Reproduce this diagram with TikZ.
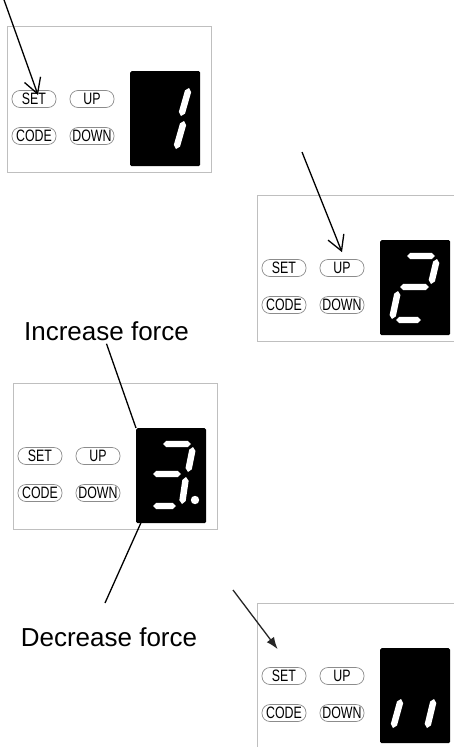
\documentclass[tikz,border=0pt]{standalone}
\usepackage{fontspec}
\setmainfont{Liberation Sans}
\newfontfamily\keyfont[FakeStretch=0.75]{Liberation Sans}
\usetikzlibrary{arrows.meta,calc}
\tikzset{
        panelbox/.style = {draw=black!25, line width=0.9pt},
        keybtn/.style = {draw=black!45, line width=0.7pt, rounded corners=8pt,
            minimum width=44pt, minimum height=17pt, inner sep=0pt,
            font=\keyfont\fontsize{16.5pt}{16.5pt}\selectfont},
        segdisp/.style = {fill=black, rounded corners=1.5pt, inner sep=0pt,
            minimum width=70pt, minimum height=95pt, anchor=north west},
        forcetext/.style = {inner sep=3pt, font=\fontsize{26pt}{28pt}\selectfont},
        press/.style = {line width=1.3pt, -{Straight Barb[length=15pt,width=17pt]}},
        pressfill/.style = {line width=1.3pt, draw=black!85,
            -{Latex[length=12pt,width=9pt]}},
        lead/.style = {line width=1.3pt}
    }
% one control panel: #1 = top left corner, #2 = name prefix
\newcommand{\ctrlpanel}[2]{%
    \begin{scope}[shift={(#1)}, name prefix=#2-]
        \draw[panelbox] (0,0) rectangle (204,146);
        \node[keybtn] (set) at (27,73) {SET};
        \node[keybtn] (up) at (85,73) {UP};
        \node[keybtn] (code) at (27,110) {CODE};
        \node[keybtn] (down) at (85,110) {DOWN};
        \node[segdisp] (disp) at (123,45) {};
    \end{scope}}
% one slanted segment of the digit, from #1 to #2
\newcommand{\dseg}[2]{%
    \fill[white] (#1) -- ($(#1)!3.4pt!(#2)!3.2pt!90:(#2)$)
        -- ($(#2)!3.4pt!(#1)!3.2pt!-90:(#1)$) -- (#2)
        -- ($(#2)!3.4pt!(#1)!3.2pt!90:(#1)$)
        -- ($(#1)!3.4pt!(#2)!3.2pt!-90:(#2)$) -- cycle;}

\begin{document}
\begin{tikzpicture}[x=1pt, y=-1pt]
    \useasboundingbox (0,0) rectangle (454,747);
    \clip (0,0) rectangle (454,747);

    \ctrlpanel{7,26}{p1}
    \ctrlpanel{257,195}{p2}
    \ctrlpanel{13,383}{p3}
    \ctrlpanel{257,603}{p4}

    % digits
    \begin{scope}[shift={(p1-disp.north west)}] % 1
        \dseg{59,17}{51,45}
        \dseg{54,50}{46,78}
    \end{scope}
    \begin{scope}[shift={(p2-disp.north west)}] % 2
        \dseg{27,16}{55,16}
        \dseg{57,19}{51,44}
        \dseg{20,47}{49,47}
        \dseg{18,51}{12,79}
        \dseg{16,80}{41,80}
    \end{scope}
    \begin{scope}[shift={(p3-disp.north west)}] % 3.
        \dseg{27,16}{55,16}
        \dseg{57,19}{52,44}
        \dseg{17,46}{45,46}
        \dseg{50,49}{46,76}
        \dseg{17,78}{40,78}
        \fill[white] (59,72) circle (4.2pt);
    \end{scope}
    \begin{scope}[shift={(p4-disp.north west)}] % 1 1
        \dseg{21,51}{13,80}
        \dseg{54,51}{47,80}
    \end{scope}

    % arrows to the keys
    \coordinate (s1) at (3,-3);
    \draw[press] (s1) -- ($(p1-set.center)+(4,-4)$);
    \coordinate (s2) at (302,152);
    \draw[press] (s2) -- ($(p2-up.north)+(0,-7)$);
    \coordinate (s4) at (233,590);
    \draw[pressfill] (s4) -- ($(p4-set.north west)+(16,-18)$);

    % force labels
    \node[forcetext] (inc) at (106.5,331) {Increase force};
    \draw[lead] (inc.south) -- (p3-disp.north west);
    \node[forcetext] (dec) at (109,637) {Decrease force};
    \coordinate (d1) at (105,603);
    \draw[lead] ($(p3-disp.south west)+(6,-3)$) -- (d1);
\end{tikzpicture}
\end{document}
